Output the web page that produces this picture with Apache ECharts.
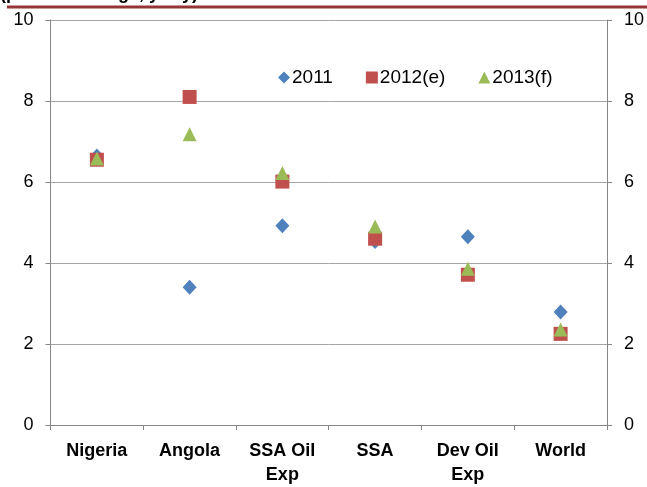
<!DOCTYPE html>
<html><head><meta charset="utf-8">
<script src="https://cdn.jsdelivr.net/npm/echarts@6/dist/echarts.min.js"></script>
<style>html,body{margin:0;padding:0;background:#fff}#c{width:647px;height:487px}</style>
</head><body><div id="c"></div>
<script>
const categories = ['Nigeria', 'Angola', 'SSA Oil\nExp', 'SSA', 'Dev Oil\nExp', 'World'];
const s2011 = [6.64, 3.40, 4.92, 4.53, 4.65, 2.79];
const s2012 = [6.55, 8.10, 6.01, 4.60, 3.71, 2.25];
const s2013 = [6.58, 7.18, 6.22, 4.90, 3.86, 2.36];
const yTicks = [0, 2, 4, 6, 8, 10];
const titleText = '(percent change, y-o-y)';

const FONT = '"Liberation Sans", Arial, sans-serif';
const chart = echarts.init(document.getElementById('c'), null, {renderer: 'canvas'});
function yAxis(pos) {
  return {
    type: 'value', position: pos, min: yTicks[0], max: yTicks[yTicks.length - 1], interval: 2,
    axisLine: {show: true, lineStyle: {color: '#868686', width: 1}},
    axisTick: {show: true, inside: false, length: 5, lineStyle: {color: '#868686'}},
    axisLabel: {color: '#000', fontSize: 18, fontFamily: FONT, margin: 17},
    splitLine: {show: pos === 'left', lineStyle: {color: '#a6a6a6', width: 1}}
  };
}
function sc(name, data, symbol, color, z) {
  return {
    name, type: 'scatter', data, symbol, symbolSize: symbol === 'diamond' ? [14, 15] : 14,
    itemStyle: {color, opacity: 1}, z
  };
}
chart.setOption({
  animation: false,
  backgroundColor: '#fff',
  grid: {left: 50.5, right: 38.5, top: 20, bottom: 59},
  legend: {
    left: 273, top: 63, itemWidth: 12, itemHeight: 12, itemGap: 33,
    textStyle: {color: '#000', fontSize: 19, fontFamily: FONT, padding: [0, 0, 0, -3]},
    data: ['2011', '2012(e)', '2013(f)']
  },
  xAxis: {
    type: 'category', data: categories, boundaryGap: true,
    axisLine: {lineStyle: {color: '#868686'}},
    axisTick: {show: true, length: 5, alignWithLabel: false, lineStyle: {color: '#868686'}},
    axisLabel: {color: '#000', fontSize: 18, fontWeight: 'bold', fontFamily: FONT, margin: 14, lineHeight: 24, interval: 0}
  },
  yAxis: [yAxis('left'), yAxis('right')],
  series: [
    sc('2011', s2011, 'diamond', '#4F81BD', 2),
    sc('2012(e)', s2012, 'rect', '#C0504D', 3),
    sc('2013(f)', s2013, 'triangle', '#9BBB59', 4)
  ],
  graphic: [
    {type: 'text', left: 0, top: -15, style: {text: titleText, fontSize: 18, fontWeight: 'bold', fontFamily: FONT, fill: '#000'}},
    {type: 'rect', shape: {x: 7, y: 5.5, width: 640, height: 3}, style: {fill: '#963634'}}
  ]
});
</script></body></html>
